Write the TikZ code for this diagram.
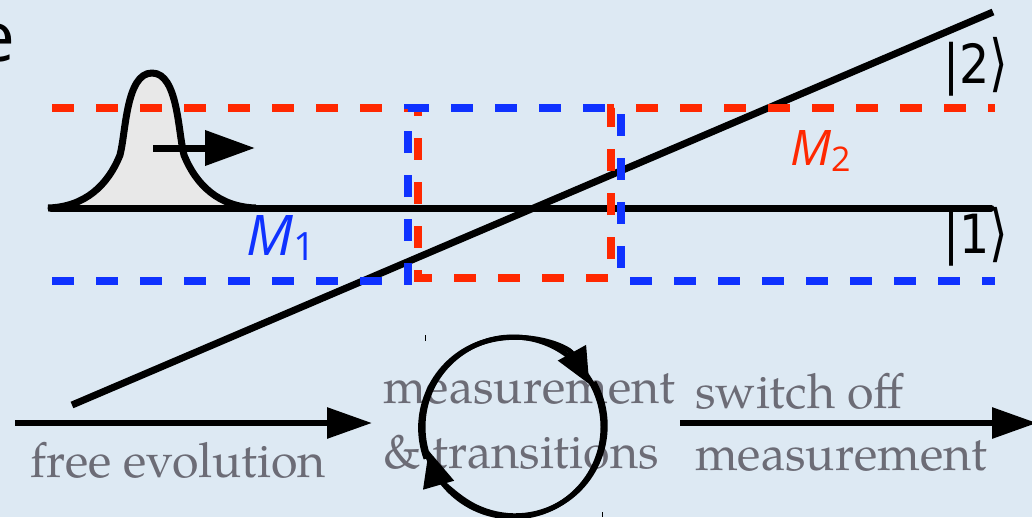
\documentclass[tikz,border=0pt]{standalone}
\usepackage{fontspec}
\setmainfont{Open Sans}
\newfontfamily\ketfont{DejaVu Sans}
\newfontfamily\mfont{Open Sans}
\newfontfamily\pal{texgyrepagella-regular.otf}
\usetikzlibrary{arrows.meta}
\definecolor{bg}{RGB}{221,233,243}
\definecolor{mred}{RGB}{255,40,0}
\definecolor{mblue}{RGB}{15,50,255}
\definecolor{txtgray}{RGB}{108,108,118}
\definecolor{gfill}{RGB}{232,232,232}
\begin{document}
\begin{tikzpicture}[x=1pt,y=-1pt,
  dashred/.style={draw=mred,line width=7.5pt,dash pattern=on 22pt off 22pt},
  dashblue/.style={draw=mblue,line width=7.5pt,dash pattern=on 22pt off 22pt},
  blackline/.style={line width=7pt},
  bigarrow/.style={line width=6pt,-{Triangle[length=45pt,width=30pt]}},
  cyclearrow/.style={line width=5pt,-{Triangle[length=36pt,width=31pt]}},
  graytext/.style={text=txtgray,font=\pal\fontsize{48.4}{50}\selectfont,inner sep=0pt,anchor=base west},
  ket/.style={font=\ketfont\fontsize{54}{56}\selectfont,inner sep=0pt,anchor=base west},
  mlabel/.style={inner sep=0pt,anchor=base west},
]
\fill[bg] (0,0) rectangle (1032,517);
\useasboundingbox (0,0) rectangle (1032,517);

% wave packet fill
\def\packet{(48,208) .. controls (85,207) and (108,185) .. (120,155)
  .. controls (126,132) and (126,73) .. (152,73)
  .. controls (178,73) and (178,132) .. (184,155)
  .. controls (196,185) and (219,207) .. (256,208)}
\fill[gfill] \packet -- cycle;

% levels
\coordinate (hl) at (51,208);
\coordinate (hr) at (991,208);
\coordinate (dl) at (72,405);
\coordinate (dr) at (993,12);
\draw[blackline,line cap=round] (hl) -- (hr);
\draw[blackline] (dl) -- (dr);

% wave packet outline and arrow
\draw[line width=7pt,line join=round] \packet;
\coordinate (ga) at (153,148);
\coordinate (gb) at (255,148);
\draw[line width=7pt,-{Triangle[length=50pt,width=34pt]}] (ga) -- (gb);

% measurement regions
\draw[dashred] (52,108) -- (418,108) -- (418,278) -- (611,278) -- (611,108) -- (995,108);
\draw[dashblue] (52,281) -- (408,281) -- (408,108) -- (621,108) -- (621,281) -- (995,281);

% labels
\node[mlabel,text=mblue,font=\mfont\itshape\fontsize{56}{56}\selectfont] (M1) at (246,255)
  {M\raisebox{-5pt}{\upshape\fontsize{39}{39}\selectfont 1}};
\node[mlabel,text=mred,font=\mfont\itshape\fontsize{49}{49}\selectfont] (M2) at (790,165)
  {M\raisebox{-6pt}{\upshape\fontsize{34}{34}\selectfont 2}};
\node[ket] (k2) at (943,83) {\scalebox{0.88}[1]{|2\raisebox{-1pt}{\scalebox{1}[1.15]{⟩}}}};
\node[ket] (k1) at (943,253) {\scalebox{0.88}[1]{|1\raisebox{-1pt}{\scalebox{1}[1.15]{⟩}}}};
\node[inner sep=0pt,anchor=base east,font=\mfont\fontsize{69}{69}\selectfont] (e) at (15,61) {e};

% bottom process
\node[graytext] (fe) at (30,477) {free evolution};
\node[graytext] (ms) at (383,403) {measurement};
\node[graytext] (tr) at (383,468) {\& transitions};
\node[graytext] (so) at (695,408) {switch off};
\node[graytext] (mm) at (695,470) {measurement};

\node[circle,draw,line width=5pt,minimum size=180pt,inner sep=0pt] (cyc) at (513,427) {};
\draw[cyclearrow] (cyc.200) arc[start angle=200,end angle=29,radius=90pt];
\draw[cyclearrow] (cyc.29) arc[start angle=29,end angle=-164,radius=90pt];

\coordinate (a1s) at (15,423);
\coordinate (a1e) at (372,423);
\coordinate (a2s) at (680,423);
\coordinate (a2e) at (1037,423);
\draw[bigarrow] (a1s) -- (a1e);
\draw[bigarrow] (a2s) -- (a2e);

\draw[line width=1pt] (425,335) -- (425,341);
\draw[line width=1pt] (602,512) -- (602,517);
\end{tikzpicture}
\end{document}
